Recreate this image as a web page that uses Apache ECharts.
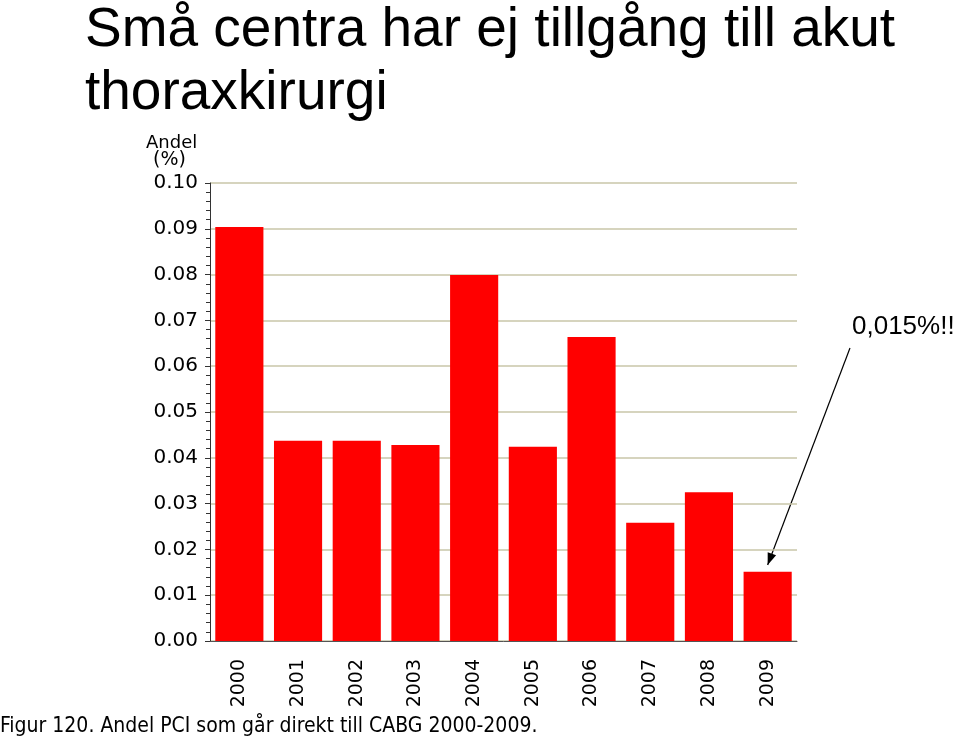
<!DOCTYPE html>
<html><head><meta charset="utf-8">
<script src="https://cdn.jsdelivr.net/npm/echarts@6/dist/echarts.min.js"></script>
<style>html,body{margin:0;padding:0;background:#fff}#c{width:960px;height:743px}</style>
</head><body><div id="c"></div>
<script>
const years = ['2000','2001','2002','2003','2004','2005','2006','2007','2008','2009'];
const andel = [0.0904, 0.0437, 0.0437, 0.0428, 0.0799, 0.0424, 0.0664, 0.0258, 0.0325, 0.0151];
const yTicks = [0, 0.01, 0.02, 0.03, 0.04, 0.05, 0.06, 0.07, 0.08, 0.09, 0.10];

const chart = echarts.init(document.getElementById('c'), null, {renderer:'canvas'});
const option = {
  animation: false,
  backgroundColor: '#fff',
  grid: {left: 210, right: 163, top: 183, bottom: 102, containLabel: false},
  xAxis: {
    type: 'category', data: years,
    axisLine: {show: true, lineStyle: {color: '#555', width: 1}},
    axisTick: {show: false},
    axisLabel: {rotate: 90, margin: 18, fontFamily: 'DejaVu Sans', fontSize: 19, color: '#000'}
  },
  yAxis: {
    type: 'value', min: yTicks[0], max: yTicks[yTicks.length-1], interval: 0.01,
    axisLine: {show: true, lineStyle: {color: '#333', width: 1}},
    axisTick: {show: true, length: 5, inside: false, lineStyle: {color: '#333'}},
    minorTick: {show: true, splitNumber: 5, length: 4, lineStyle: {color: '#333'}},
    splitLine: {show: true, lineStyle: {color: '#c8c6a8', width: 1.5}},
    axisLabel: {margin: 12, fontFamily: 'DejaVu Sans', fontSize: 20, color: '#000',
      formatter: v => v.toFixed(2)}
  },
  series: [{
    type: 'bar', data: andel, barCategoryGap: '18%',
    itemStyle: {color: '#ff0000'}
  }],
  graphic: []
};
chart.setOption(option);

const tip = chart.convertToPixel({xAxisIndex:0, yAxisIndex:0}, [years[9], andel[9] + 0.0015]);
chart.setOption({
  graphic: [
    {type:'text', left: 85, top: -1, style:{text:'Små centra har ej tillgång till akut\nthoraxkirurgi', font:'55px "Liberation Sans", Arial', fill:'#000', lineHeight: 63}},
    {type:'text', left: 146, top: 134, style:{text:'Andel', font:'18px "DejaVu Sans"', fill:'#000'}},
    {type:'text', left: 153, top: 151, style:{text:'(%)', font:'19px "DejaVu Sans"', fill:'#000'}},
    {type:'text', left: 0, top: 716, style:{text:'Figur 120. Andel PCI som går direkt till CABG 2000-2009.', font:'21px "DejaVu Sans Condensed"', fill:'#000'}},
    {type:'text', left: 852, top: 314, style:{text:'0,015%!!', font:'26px "Liberation Sans", Arial', fill:'#000'}},
    {type:'line', shape:{x1: 850, y1: 348, x2: tip[0], y2: tip[1]}, style:{stroke:'#000', lineWidth:1.2}},
    {type:'polygon', shape:{points: (function(){
       const dx = tip[0]-850, dy = tip[1]-348, L = Math.hypot(dx,dy), ux = dx/L, uy = dy/L;
       const bx = tip[0]-ux*12, by = tip[1]-uy*12;
       return [[tip[0],tip[1]],[bx-uy*4.5,by+ux*4.5],[bx+uy*4.5,by-ux*4.5]];
     })()}, style:{fill:'#000'}}
  ]
});
</script></body></html>
